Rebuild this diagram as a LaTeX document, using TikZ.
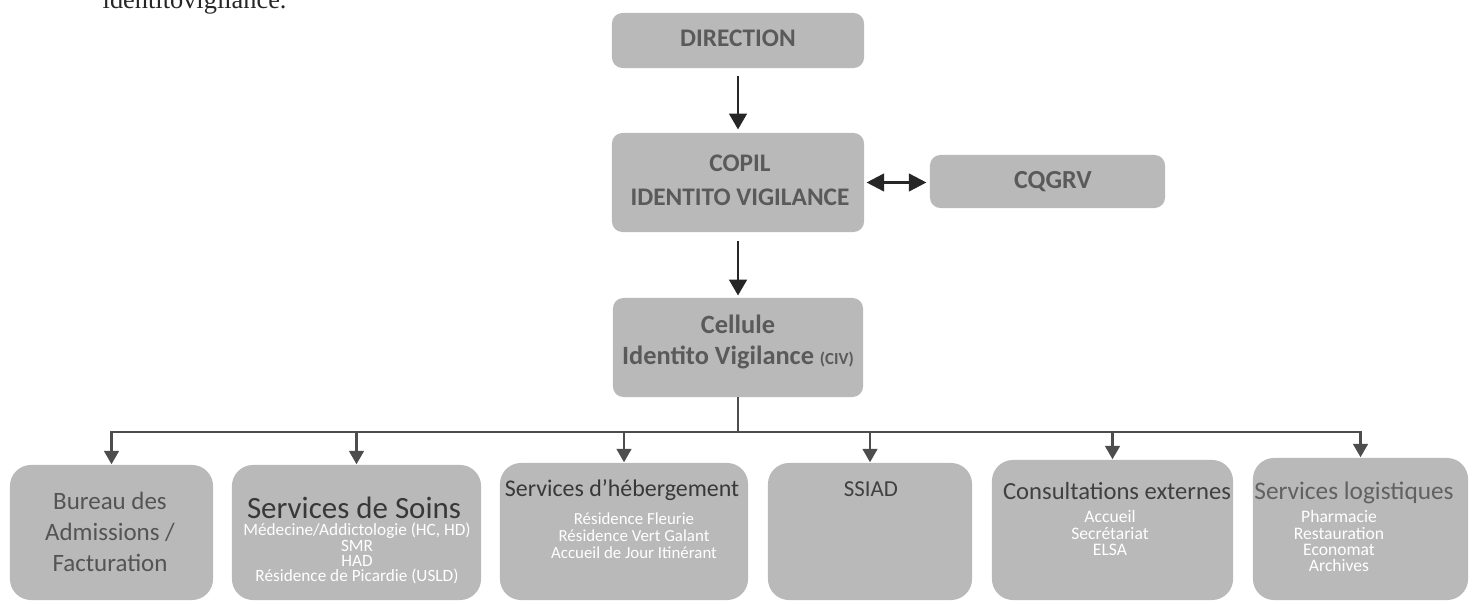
\documentclass[tikz,border=0pt]{standalone}
\usepackage{fontspec}
\setmainfont{Carlito}
\newfontfamily\bodyserif{Liberation Serif}
\usetikzlibrary{arrows.meta}

\definecolor{boxfill}{HTML}{B9B9B9}
\definecolor{headtext}{HTML}{5A5A5A}
\definecolor{unittext}{HTML}{444444}
\definecolor{linkdark}{HTML}{262626}
\definecolor{linkgray}{HTML}{4D4D4D}

% centred lines with a fixed baseline distance; the baseline of the box is the first line
\newcommand\linestack[2]{\vtop{\baselineskip=#1\lineskiplimit=-100pt\lineskip=0pt\halign{\hfil##\hfil\cr#2\crcr}}}

\begin{document}
\begin{tikzpicture}[x=0.01cm,y=-0.01cm,
  topbox/.style={fill=boxfill, rounded corners=3pt, inner sep=0pt},
  unitbox/.style={fill=boxfill, rounded corners=6pt, inner sep=0pt},
  headlabel/.style={anchor=base, inner sep=0pt, text=headtext, font=\bfseries\fontsize{7.2}{8}\selectfont},
  unittitle/.style={anchor=base, inner sep=0pt, text=unittext},
  unitlist/.style={anchor=base, inner sep=0pt, text=white},
  mainlink/.style={draw=linkdark, line width=0.75pt, -{Triangle[width=5pt,length=4.5pt]}},
  branch/.style={draw=linkgray, line width=0.6pt, line cap=rect},
  drop/.style={draw=linkgray, line width=0.6pt, -{Triangle[width=4.2pt,length=3.8pt]}}]

\useasboundingbox (0,0) rectangle (1473,604);
\clip (0,0) rectangle (1473,604);

% end of the preceding line of running text
\node[anchor=base west, inner sep=0pt, text=black!85, font=\bodyserif\fontsize{7.5}{9}\selectfont] (lead) at (102,9) {identitovigilance.};

% steering level
\node[topbox, minimum width=2.52cm, minimum height=0.55cm] (dir) at (738,40.5) {};
\node[headlabel] (dirt) at (738,47) {DIRECTION};

\node[topbox, minimum width=2.52cm, minimum height=0.99cm] (copil) at (738,182.5) {};
\node[headlabel] (copilt) at (740,172) {\linestack{9.4pt}{COPIL\cr IDENTITO VIGILANCE}};

\node[topbox, minimum width=2.35cm, minimum height=0.53cm] (cqgrv) at (1047.5,181.5) {};
\node[headlabel, font=\bfseries\fontsize{7.4}{8}\selectfont] (cqgrvt) at (1053,189) {CQGRV};

\node[topbox, minimum width=2.50cm, minimum height=0.99cm] (civ) at (738,347.5) {};
\node[headlabel, font=\bfseries\fontsize{7.5}{8}\selectfont] (civt) at (738,334)
  {\linestack{8.8pt}{Cellule\cr Identito Vigilance {\fontsize{4.8}{5}\selectfont (CIV)}}};

% operational units
\node[unitbox, minimum width=2.03cm, minimum height=1.35cm] (b1) at (111.5,532.5) {};
\node[unittitle, text=black!67, font=\fontsize{7.1}{8}\selectfont] (b1t) at (110,510)
  {\linestack{8.8pt}{Bureau des\cr Admissions /\cr Facturation}};

\node[unitbox, minimum width=2.49cm, minimum height=1.35cm] (b2) at (356.5,532.5) {};
\node[unittitle, text=black!78, font=\fontsize{8.8}{9}\selectfont] (b2t) at (354,519) {Services de Soins};
\node[unitlist, font=\fontsize{4.9}{6}\selectfont] (b2l) at (357,536)
  {\linestack{4.35pt}{Médecine/Addictologie (HC, HD)\cr SMR\cr HAD\cr Résidence de Picardie (USLD)}};

\node[unitbox, minimum width=2.48cm, minimum height=1.37cm] (b3) at (624,531.5) {};
\node[unittitle, text=black!78, font=\fontsize{6.8}{8}\selectfont] (b3t) at (622,497) {Services d’hébergement};
\node[unitlist, font=\fontsize{4.8}{5}\selectfont] (b3l) at (634,525)
  {\linestack{4.7pt}{Résidence Fleurie\cr Résidence Vert Galant\cr Accueil de Jour Itinérant}};

\node[unitbox, minimum width=2.04cm, minimum height=1.37cm] (b4) at (870,531.5) {};
\node[unittitle, text=black!75, font=\fontsize{6.5}{8}\selectfont] (b4t) at (871,497) {SSIAD};

\node[unitbox, minimum width=2.41cm, minimum height=1.40cm] (b5) at (1112.5,530) {};
\node[unittitle, text=black!75, font=\fontsize{7.0}{8}\selectfont] (b5t) at (1117,500) {Consultations externes};
\node[unitlist, font=\fontsize{5.0}{6}\selectfont] (b5l) at (1110,523)
  {\linestack{4.6pt}{Accueil\cr Secrétariat\cr ELSA}};

\node[unitbox, minimum width=2.15cm, minimum height=1.42cm] (b6) at (1360.5,529) {};
\node[unittitle, text=black!62, font=\fontsize{7.2}{8}\selectfont] (b6t) at (1354,500) {Services logistiques};
\node[unitlist, font=\fontsize{5.0}{6}\selectfont] (b6l) at (1339,523)
  {\linestack{4.6pt}{Pharmacie\cr Restauration\cr Economat\cr Archives}};

% links between levels
\draw[mainlink, shorten <=2pt, shorten >=0.8pt] (dir) -- (copil);
\draw[mainlink, {Triangle[width=5pt,length=5pt]}-{Triangle[width=5pt,length=5pt]}, shorten <=0.5pt, shorten >=0.8pt]
  (copil.east) -- (copil.east -| cqgrv.west);
\draw[mainlink, shorten <=2.3pt, shorten >=0.5pt] (copil) -- (civ);

% distribution to the units
\coordinate (bus) at (738,432);
\draw[branch] (civ.south) -- (bus);
\draw[branch] (b1.north |- bus) -- (b6.north |- bus);
\foreach \u in {b1,b2,b3,b4,b5,b6}
  \draw[drop] (\u.north |- bus) -- (\u.north);
\end{tikzpicture}
\end{document}
